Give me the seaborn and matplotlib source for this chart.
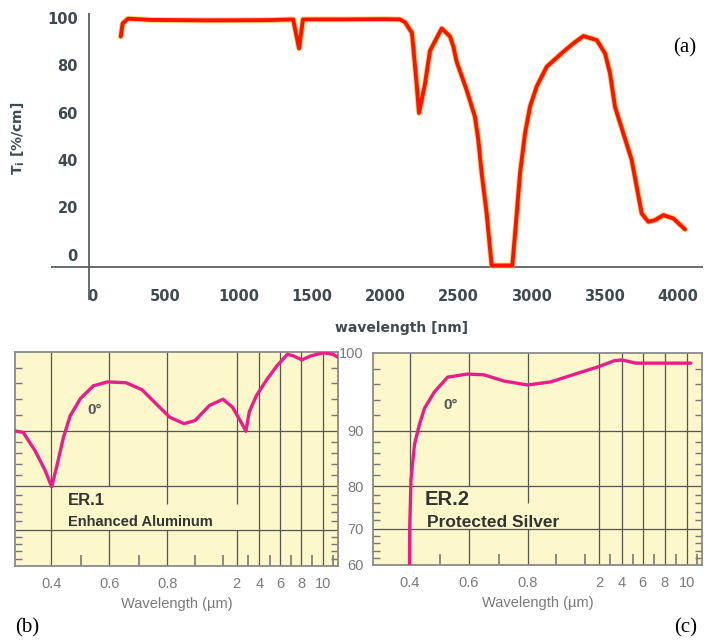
import numpy as np
import matplotlib
matplotlib.use('Agg')
import matplotlib.pyplot as plt
import seaborn as sns

# (a) internal transmittance of the crystal
wl_a = [196, 209, 246, 400, 800, 1200, 1373, 1413, 1440, 1700, 2000,
        2102, 2137, 2184, 2216, 2232, 2273, 2307, 2387, 2444, 2467,
        2489, 2557, 2614, 2637, 2660, 2694, 2728, 2869, 2892, 2922,
        2956, 2990, 3035, 3104, 3218, 3286, 3354, 3445, 3502, 3536,
        3570, 3627, 3684, 3718, 3752, 3798, 3843, 3900, 3968, 4048]
ti_a = [92, 97.5, 99.5, 99, 98.8, 98.9, 99.2, 87, 99.2, 99.2, 99.3,
        99.2, 98, 93.5, 72, 59.8, 72, 86, 95.4, 92, 87.7,
        81.4, 69.5, 58.2, 48.4, 34.4, 17.5, -4.4, -4.4, 11.9, 34.5,
        51.3, 62.5, 70.9, 79.3, 85.6, 89.1, 92.2, 90.5, 84.9, 76.5,
        62.4, 51.2, 40, 28.8, 17.5, 14, 14.7, 16.8, 15.4, 10.8]
xticks_a = [0, 500, 1000, 1500, 2000, 2500, 3000, 3500, 4000]
yticks_a = [0, 20, 40, 60, 80, 100]

# (b) enhanced aluminum mirror reflectance
wl_b = [0.27, 0.303, 0.344, 0.378, 0.401, 0.418, 0.441, 0.464, 0.499, 0.544,
        0.593, 0.657, 0.712, 0.762, 0.810, 0.862, 0.902, 0.952, 1.0, 1.69,
        2.48, 2.85, 3.15, 3.77, 4.70, 5.67, 6.69, 7.27, 8.03, 8.87,
        10.03, 11.03, 11.4]
r_b = [90.0, 89.7, 86.4, 82.9, 79.9, 83.5, 88.8, 91.9, 94.1, 95.7,
       96.2, 96.1, 95.2, 93.4, 91.7, 90.9, 91.3, 93.2, 94.0, 93.0,
       90.9, 89.9, 92.4, 94.5, 96.5, 98.2, 99.7, 99.5, 99.0, 99.5,
       99.9, 99.7, 99.4]

# (c) protected silver mirror reflectance
wl_c = [0.398, 0.399, 0.403, 0.415, 0.431, 0.448, 0.481, 0.526, 0.594, 0.650,
        0.718, 0.799, 0.882, 0.975, 1.90, 3.36, 3.92, 4.36, 5.30, 10.4]
r_c = [58, 70.5, 81.1, 87.6, 90.8, 92.9, 95.0, 96.9, 97.3, 97.2,
       96.4, 95.9, 96.3, 97.4, 98.2, 99.0, 99.1, 99.0, 98.7, 98.7]

# odd, hand-drawn axes of the catalogue plots
wl_knots = [0.1, 0.4, 0.5, 0.6, 0.7, 0.8, 0.9, 1.0, 2, 3, 4, 5, 6, 7, 8, 9, 10, 11, 20]
wl_pos = [-89, 0, 30, 59, 89, 118, 146, 175, 189, 200, 212, 223, 233, 244, 255, 266, 277, 287, 382]
xmajor = [0.4, 0.6, 0.8, 2, 4, 6, 8, 10]
xmajor_labels = ['0.4', '0.6', '0.8', '2', '4', '6', '8', '10']
xminor = [0.5, 0.7, 0.9, 1.0, 3, 5, 7, 9, 11]
r_knots = [40, 60, 70, 80, 90, 100, 120]
r_pos = [-72, 0, 36, 79, 134, 212, 368]
rmajor = [60, 70, 80, 90, 100]
rminor = [v for v in range(62, 100, 2) if v % 10]

sns.set_theme(style='white')
plt.rcParams['font.family'] = ['DejaVu Sans']
plt.rcParams['mathtext.fontset'] = 'dejavusans'

W, H = 707, 641
fig = plt.figure(figsize=(W / 100, H / 100), dpi=100)
fig.patch.set_facecolor('white')


def px_rect(l, t, r, b):
    return [l / W, 1 - b / H, (r - l) / W, (b - t) / H]


# ---------------- panel (a) ----------------
txt_a = '#3f4a4e'
ax_a = fig.add_axes(px_rect(51, 13, 703, 300))
ax_a.set_facecolor('white')
sns.lineplot(x=wl_a, y=ti_a, ax=ax_a, color='#ffb000', lw=4.2, alpha=0.55,
             estimator=None, zorder=3)
sns.lineplot(x=wl_a, y=ti_a, ax=ax_a, color='#ff1200', lw=2.8,
             estimator=None, zorder=4)
ax_a.set_xlim(-280, 4171)
ax_a.set_ylim(-18.95, 101.9)
for s in ax_a.spines.values():
    s.set_visible(False)
ax_a.axhline(-5.05, color='#586164', lw=1.3, zorder=2)
ax_a.axvline(-20.5, color='#586164', lw=1.3, zorder=2)
ax_a.set_xticks(xticks_a)
ax_a.set_yticks(yticks_a)
ax_a.tick_params(axis='y', length=0, pad=-19.4, labelsize=10.5, labelcolor=txt_a)
ax_a.tick_params(axis='x', length=0, pad=-8.0, labelsize=10.5, labelcolor=txt_a)
for lab in ax_a.get_xticklabels() + ax_a.get_yticklabels():
    lab.set_fontweight('bold')
ax_a.set_xlabel('wavelength [nm]', fontsize=10, fontweight='bold', color=txt_a)
ax_a.xaxis.set_label_coords((402 - 51) / 652, (300 - 321) / 287)
ax_a.set_ylabel(r'$\mathbf{T_i}$ [%/cm]', fontsize=10, fontweight='bold', color=txt_a)
ax_a.yaxis.set_label_coords((27 - 51) / 652, (300 - 138) / 287)
ax_a.grid(False)


# ---------------- panels (b) and (c) ----------------
def fwd_x(x):
    return np.interp(x, wl_knots, wl_pos)


def inv_x(p):
    return np.interp(p, wl_pos, wl_knots)


def fwd_y(y):
    return np.interp(y, r_knots, r_pos)


def inv_y(p):
    return np.interp(p, r_pos, r_knots)


bg = '#fdf7cc'
grid_c = '#555555'
lab_c = '#7a7a7a'
txt_c = '#333333'


def catalogue_panel(rect, wl, refl, gaps, show_y):
    ax = fig.add_axes(rect)
    ax.set_facecolor(bg)
    sns.lineplot(x=wl, y=refl, ax=ax, color='#ea1d8d', lw=2.4,
                 estimator=None, zorder=4)
    ax.set_xscale('function', functions=(fwd_x, inv_x))
    ax.set_yscale('function', functions=(fwd_y, inv_y))
    ax.set_xlim(0.275, 11.5)
    ax.set_ylim(60, 100)
    ax.grid(False)
    # vertical grid, broken behind the coating label
    for v in xmajor:
        if v in gaps:
            lo, hi = gaps[v]
            ax.vlines(v, 60, lo, color=grid_c, lw=0.9, zorder=1)
            ax.vlines(v, hi, 100, color=grid_c, lw=0.9, zorder=1)
        else:
            ax.axvline(v, color=grid_c, lw=0.9, zorder=1)
    for v in [70, 80, 90]:
        ax.axhline(v, color=grid_c, lw=0.9, zorder=1)
    for s in ax.spines.values():
        s.set_color('#8a8a8a')
        s.set_linewidth(1.3)
    ax.set_xticks(xmajor)
    ax.set_xticklabels(xmajor_labels)
    ax.set_xticks(xminor, minor=True)
    ax.set_yticks(rmajor)
    ax.set_yticks(rminor, minor=True)
    ax.tick_params(axis='x', which='major', length=0, pad=8, labelsize=10.5,
                   labelcolor=lab_c)
    ax.tick_params(axis='x', which='minor', direction='in', length=8,
                   width=1.2, color='#777777', bottom=True)
    ax.tick_params(axis='y', which='major', length=0, pad=7, labelsize=10.5,
                   labelcolor=lab_c, labelleft=show_y)
    ax.tick_params(axis='y', which='minor', direction='in', length=5,
                   width=1.0, color='#777777', left=True, right=True)
    for lab in ax.get_xticklabels() + ax.get_yticklabels():
        lab.set_fontfamily('Liberation Sans')
    ax.set_xlabel('Wavelength (\u00b5m)', fontsize=10.5, color=lab_c,
                  fontfamily='Liberation Sans', labelpad=4)
    ax.set_ylabel('')
    return ax


ax_b = catalogue_panel(px_rect(15, 352, 338, 566), wl_b, r_b,
                       {0.6: (70, 80), 0.8: (70, 76), 2: (70, 76)}, False)
ax_b.text(0.164, 0.285, 'ER.1', transform=ax_b.transAxes, ha='left', va='baseline',
          fontsize=12, fontweight='bold', color=txt_c, fontfamily='Liberation Sans')
ax_b.text(0.164, 0.185, 'Enhanced Aluminum', transform=ax_b.transAxes, ha='left',
          va='baseline', fontsize=10.5, fontweight='bold', color=txt_c,
          fontfamily='Liberation Sans')
ax_b.text((94.5 - 15) / 323, (566 - 410) / 214, '0\u00b0', transform=ax_b.transAxes,
          ha='center', va='center', fontsize=11, fontweight='bold', color='#555555',
          fontfamily='Liberation Sans')

ax_c = catalogue_panel(px_rect(373, 353, 702, 565), wl_c, r_c,
                       {0.6: (70, 80), 0.8: (70, 76)}, True)
ax_c.text(0.158, 0.281, 'ER.2', transform=ax_c.transAxes, ha='left', va='baseline',
          fontsize=14.5, fontweight='bold', color=txt_c, fontfamily='Liberation Sans')
ax_c.text(0.163, 0.179, 'Protected Silver', transform=ax_c.transAxes, ha='left',
          va='baseline', fontsize=12.5, fontweight='bold', color=txt_c,
          fontfamily='Liberation Sans')
ax_c.text((451 - 373) / 329, (565 - 405) / 212, '0\u00b0', transform=ax_c.transAxes,
          ha='center', va='center', fontsize=11, fontweight='bold', color='#555555',
          fontfamily='Liberation Sans')

# panel letters
for lbl, x, y in [('(a)', 685, 48), ('(b)', 27, 628), ('(c)', 686, 628)]:
    fig.text(x / W, 1 - y / H, lbl, ha='center', va='center', fontsize=15,
             fontfamily='Liberation Serif', color='black')

fig.savefig('out.png', dpi=100)
